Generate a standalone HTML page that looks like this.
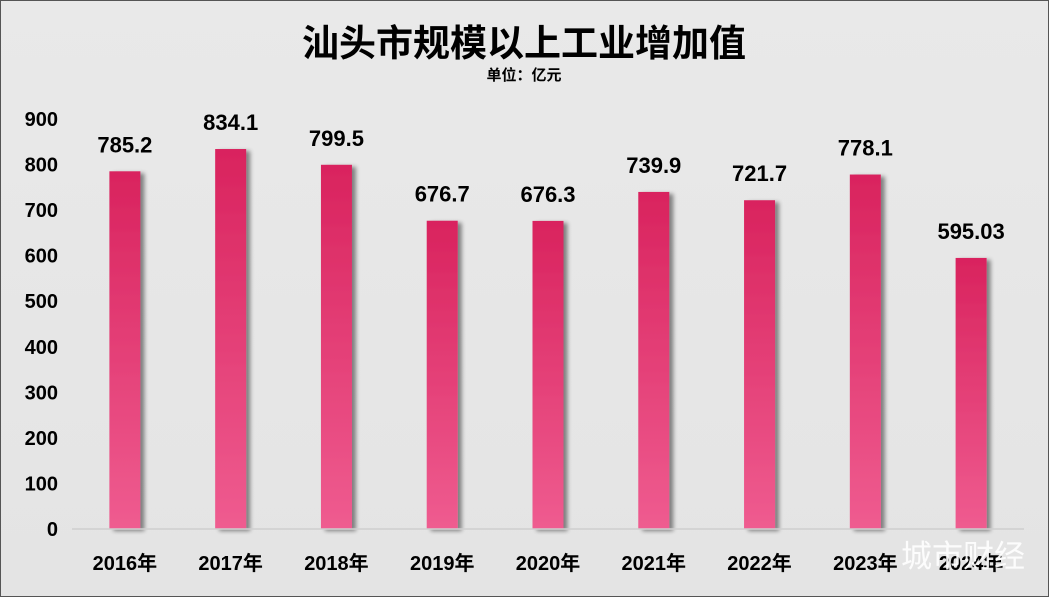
<!DOCTYPE html>
<html><head><meta charset="utf-8"><style>
html,body{margin:0;padding:0;background:#e6e6e6;}
svg{display:block;font-family:"Liberation Sans","Noto Sans CJK SC",sans-serif;}
</style></head><body>
<svg id="chart" width="1049" height="597" viewBox="0 0 1049 597">
<defs>
<linearGradient id="bg" x1="0" y1="0" x2="0" y2="1"><stop offset="0" stop-color="#e9e9e9"/><stop offset="1" stop-color="#e4e4e4"/></linearGradient>
<linearGradient id="bar" x1="0" y1="0" x2="0" y2="1"><stop offset="0" stop-color="#d9235e"/><stop offset="1" stop-color="#ef5c90"/></linearGradient>
<filter id="sh" x="-30%" y="-5%" width="160%" height="110%"><feGaussianBlur in="SourceAlpha" stdDeviation="2"/><feOffset dx="4" dy="2"/><feComponentTransfer><feFuncA type="linear" slope="0.45"/></feComponentTransfer><feMerge><feMergeNode/><feMergeNode in="SourceGraphic"/></feMerge></filter>
</defs>
<rect x="0" y="0" width="1049" height="597" fill="url(#bg)" stroke="#555" stroke-width="2"/>
<text x="524" y="56" text-anchor="middle" font-size="37" font-weight="bold" fill="#000">汕头市规模以上工业增加值</text>
<text x="524" y="80" text-anchor="middle" font-size="15" font-weight="bold" fill="#000">单位：亿元</text>
<g id="yaxis"></g>
<g id="bars"></g>
<line x1="72" y1="529" x2="1024" y2="529" stroke="#cfcfcf" stroke-width="1.5"/>
<g id="xaxis"></g>
<text x="963" y="567" text-anchor="middle" font-size="31" fill="#fff" opacity="0.92">城市财经</text>
</svg>
<script>
const categories = ["2016年","2017年","2018年","2019年","2020年","2021年","2022年","2023年","2024年"];
const values = [785.2,834.1,799.5,676.7,676.3,739.9,721.7,778.1,595.03];
const valueLabels = ["785.2","834.1","799.5","676.7","676.3","739.9","721.7","778.1","595.03"];
const yTicks = [0,100,200,300,400,500,600,700,800,900];

const NS="http://www.w3.org/2000/svg";
const plotL=72, plotR=1024, y0=529, y900=119;
const yScale=v=>y0-(v/900)*(y0-y900);
const band=(plotR-plotL)/categories.length;
const xCenter=i=>plotL+band*(i+0.5);
const barW=31;
function mk(tag,attrs,parent){const e=document.createElementNS(NS,tag);for(const k in attrs)e.setAttribute(k,attrs[k]);parent.appendChild(e);return e;}
const ya=document.getElementById('yaxis'), bg=document.getElementById('bars'), xa=document.getElementById('xaxis');
yTicks.forEach(t=>{
  const tx=mk('text',{x:58,y:yScale(t)+7,'text-anchor':'end','font-size':20,'font-weight':'bold',fill:'#000'},ya);
  tx.textContent=t;
  
  
});
categories.forEach((c,i)=>{
  const cx=xCenter(i), top=yScale(values[i]);
  const r=mk('rect',{x:cx-barW/2,y:top,width:barW,height:y0-top,fill:'url(#bar)',filter:'url(#sh)'},bg);
  
  
  const vl=mk('text',{x:cx,y:top-19,'text-anchor':'middle','font-size':22,'font-weight':'bold',fill:'#000'},bg);
  vl.textContent=valueLabels[i];
  
  
  const xl=mk('text',{x:cx,y:570,'text-anchor':'middle','font-size':20,'font-weight':'bold',fill:'#000'},xa);
  xl.textContent=c;
  
  
});
</script>
</body></html>
